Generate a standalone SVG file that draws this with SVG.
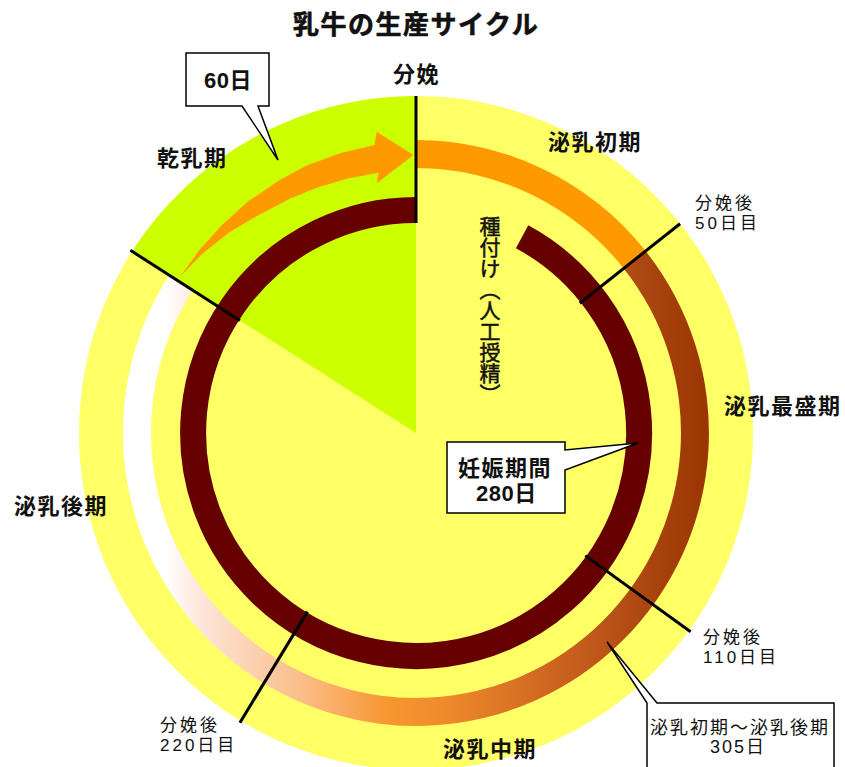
<svg xmlns="http://www.w3.org/2000/svg" width="845" height="767" viewBox="0 0 845 767">
<defs>
<style>
text{font-family:"Liberation Sans","Noto Sans CJK JP",sans-serif;fill:#111}
.t{font-weight:bold;font-size:26px;letter-spacing:1.5px;stroke:#111;stroke-width:0.6px}
.b{font-weight:bold;font-size:22px;letter-spacing:1.5px}
.s{font-size:17px;letter-spacing:3px}
.m{font-size:18px;letter-spacing:2px}
.v{font-family:"Noto Sans CJK JP",sans-serif;font-size:21px;writing-mode:vertical-rl;stroke:#111;stroke-width:0.5px}
.div{stroke:#000;stroke-width:3;fill:none}
.box{fill:#fff;stroke:#000;stroke-width:1.5}
</style>
<linearGradient id="lg" gradientUnits="userSpaceOnUse" x1="165" y1="0" x2="712" y2="0">
<stop offset="0" stop-color="#FFFFFF"/>
<stop offset="0.064" stop-color="#FDE6DA"/>
<stop offset="0.247" stop-color="#FBBE8A"/>
<stop offset="0.411" stop-color="#F7962E"/>
<stop offset="0.512" stop-color="#EF8A2C"/>
<stop offset="0.704" stop-color="#CE6620"/>
<stop offset="0.868" stop-color="#AE4812"/>
<stop offset="1" stop-color="#993300"/>
</linearGradient>
</defs>
<rect width="845" height="767" fill="#fff"/>
<g id="chart">
<circle cx="416" cy="433" r="337" fill="#FFFF66"/>
<path id="dry-wedge" d="M416 433 L132.1 251.4 A337 337 0 0 1 416 96 Z" fill="#CCFF00"/>
<path id="lact-early" d="M416 140 A293 293 0 0 1 645.6 251.0 L623.7 268.4 A265 265 0 0 0 416 168 Z" fill="#FF9900"/>
<path id="lact-rest" d="M645.6 251.0 A293 293 0 1 1 169.1 275.1 L192.7 290.2 A265 265 0 1 0 623.7 268.4 Z" fill="url(#lg)"/>
<path id="gestation" d="M522.1 236.8 A223 223 0 1 1 416 210" fill="none" stroke="#660000" stroke-width="26"/>
<path id="dry-arrow" d="M180 276.8 L198.8 250.8 L222 224.9 L247.9 201.6 L279.7 179.9 L307.7 165 L340.9 152.9 L374.5 145 L376.7 131.7 L413.5 155 L376.7 183.3 L378.5 172.7 L347.8 178.5 L316.9 187.8 L289.9 198.8 L257.9 215.4 L229.1 232.6 L202.3 253.7 Z" fill="#FF9900"/>
</g>
<g id="connectors">
<line class="div" x1="416" y1="96" x2="416" y2="223"/>
<line class="div" x1="579.8" y1="303.2" x2="680.1" y2="223.7"/>
<line class="div" x1="585.3" y1="555.6" x2="690.6" y2="631.8"/>
<line class="div" x1="307.4" y1="611.6" x2="239.9" y2="722.7"/>
<line class="div" x1="239.9" y1="320.4" x2="130.4" y2="250.3"/>
</g>
<g id="title"><text class="t" x="293" y="34">乳牛の生産サイクル</text></g>
<g id="label-bunben"><text class="b" x="393" y="82">分娩</text></g>
<g id="label-kannyuuki"><text class="b" x="157" y="166">乾乳期</text></g>
<g id="label-shoki"><text class="b" x="548" y="150">泌乳初期</text></g>
<g id="label-saiseiki"><text class="b" x="724" y="414">泌乳最盛期</text></g>
<g id="label-kouki"><text class="b" x="14" y="514">泌乳後期</text></g>
<g id="label-chuuki"><text class="b" x="443" y="757">泌乳中期</text></g>
<g id="label-50"><text class="s" x="695" y="209">分娩後</text><text class="s" x="695" y="229">50日目</text></g>
<g id="label-110"><text class="s" x="703" y="643">分娩後</text><text class="s" x="703" y="663">110日目</text></g>
<g id="label-220"><text class="s" x="160" y="731">分娩後</text><text class="s" x="160" y="751">220日目</text></g>
<g id="label-tanetsuke"><text class="v" x="490" y="216">種付け（人工授精）</text></g>
<g id="callout-60">
<path class="box" d="M186 53 H269 V106 H258 L278 160 L242 106 H186 Z"/>
<text class="b" x="204" y="88" style="letter-spacing:0.5px">60日</text>
</g>
<g id="callout-280">
<path class="box" d="M447 442 H565 V450 L638 443 L565 470 V513 H447 Z"/>
<text class="b" x="458" y="476">妊娠期間</text>
<text class="b" x="476" y="501" style="letter-spacing:0.5px">280日</text>
</g>
<g id="callout-305">
<path class="box" d="M647 775 V703 L607 642 L657 703 H834 V775 Z"/>
<text class="m" x="650" y="734">泌乳初期～泌乳後期</text>
<text class="m" x="710" y="753">305日</text>
</g>
</svg>
